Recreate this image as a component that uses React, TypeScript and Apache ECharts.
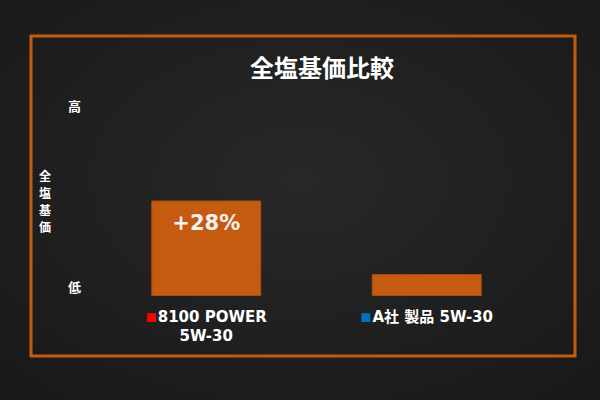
import React, { useEffect, useRef } from "react";
import * as echarts from "echarts";

const title = "全塩基価比較";
const yAxisName = "全\n塩\n基\n価";
const categories = ["8100 POWER\n5W-30", "A社 製品 5W-30"];
const markerColors = ["#ff0000", "#0070c0"];
const values = [50, 11.5];
const barLabels = ["+28%", ""];
const tickLabels: Record<number, string> = { 5: "低", 100: "高" };

const ORANGE = "#c55a11";
const CJK = "'Noto Sans CJK JP', 'Noto Sans', sans-serif";
const WIDE = "'DejaVu Sans', 'Noto Sans CJK JP', sans-serif";

export default function App() {
  const ref = useRef<HTMLDivElement>(null);
  useEffect(() => {
    if (!ref.current) return;
    const chart = echarts.init(ref.current, null, { renderer: "svg" });
    chart.setOption({
      animation: false,
      backgroundColor: {
        type: "radial",
        x: 0.5,
        y: 0.45,
        r: 0.75,
        colorStops: [
          { offset: 0, color: "#282828" },
          { offset: 1, color: "#181818" },
        ],
      },
      title: {
        text: title,
        left: 317,
        textAlign: "center",
        top: 46,
        textStyle: { color: "#ffffff", fontSize: 24, fontWeight: "bold", fontFamily: CJK, lineHeight: 30 },
      },
      graphic: [
        {
          type: "rect",
          shape: { x: 31, y: 36, width: 544, height: 320 },
          style: { fill: "none", stroke: ORANGE, lineWidth: 3 },
          silent: true,
        },
      ],
      grid: { left: 96, right: 63, top: 105, bottom: 104 },
      xAxis: {
        type: "category",
        data: categories,
        axisLine: { show: false },
        axisTick: { show: false },
        axisLabel: {
          margin: 11,
          interval: 0,
          formatter: (v: string, i: number) => {
            const lines = v.split("\n");
            const key = i === 0 ? "r" : "b";
            return [`{${key}|■}{t|${lines[0]}}`, ...lines.slice(1).map((l) => `{t|${l}}`)].join("\n");
          },
          rich: {
            t: { color: "#ffffff", fontSize: 15, fontWeight: "bold", fontFamily: WIDE, lineHeight: 19 },
            r: { color: markerColors[0], fontSize: 11, fontFamily: CJK, lineHeight: 19, padding: [0, 1, 0, 0] },
            b: { color: markerColors[1], fontSize: 11, fontFamily: CJK, lineHeight: 19, padding: [0, 1, 0, 0] },
          },
        },
      },
      yAxis: {
        type: "value",
        min: 0,
        max: 100,
        interval: 5,
        name: yAxisName,
        nameLocation: "middle",
        nameRotate: 0,
        nameGap: 45,
        nameTextStyle: { color: "#ffffff", fontSize: 12, fontFamily: CJK, lineHeight: 17, fontWeight: "bold" },
        axisLine: { show: false },
        axisTick: { show: false },
        splitLine: { show: false },
        axisLabel: {
          margin: 15,
          color: "#ffffff",
          fontSize: 13,
          fontWeight: "bold",
          fontFamily: CJK,
          formatter: (v: number) => tickLabels[v] ?? "",
        },
      },
      series: [
        {
          type: "bar",
          barWidth: 110,
          data: values.map((v, i) => ({
            value: v,
            label: {
              show: barLabels[i] !== "",
              formatter: barLabels[i],
            },
          })),
          itemStyle: { color: ORANGE, borderColor: "#a84c0e", borderWidth: 1 },
          label: {
            position: "insideTop",
            distance: 12,
            color: "#f2f2f2",
            fontSize: 21,
            fontWeight: "bold",
            fontFamily: "'DejaVu Sans', 'Open Sans', sans-serif",
          },
        },
      ],
    });
    return () => chart.dispose();
  }, []);
  return (
    <div
      ref={ref}
      style={{ position: "absolute", left: 0, top: 0, width: 600, height: 400 }}
    />
  );
}
